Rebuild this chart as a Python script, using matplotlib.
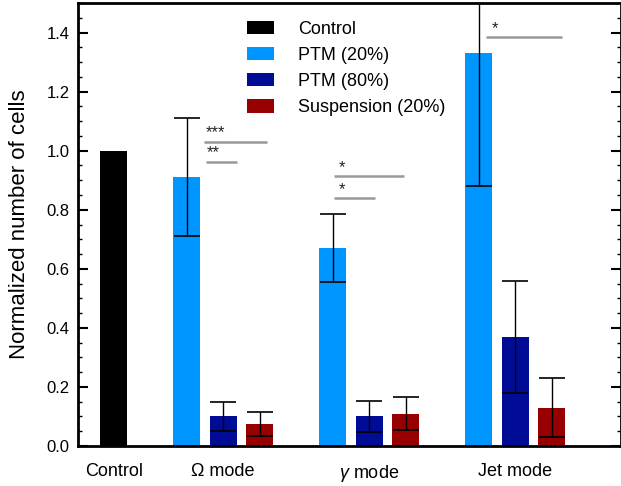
import matplotlib
matplotlib.use("Agg")
import matplotlib.pyplot as plt
from matplotlib.ticker import MultipleLocator
from matplotlib.patches import Patch

plt.rcParams['font.family'] = ['Liberation Sans', 'DejaVu Sans']
plt.rcParams['mathtext.fontset'] = 'custom'
plt.rcParams['mathtext.it'] = 'Liberation Sans:italic'
plt.rcParams['mathtext.rm'] = 'Liberation Sans'

# ---- data ----
series = ["Control", "PTM (20%)", "PTM (80%)", "Suspension (20%)"]
colors = ["#000000", "#0096FF", "#000C96", "#960000"]
group_labels = ["Control", "\u03A9 mode", r"$\gamma$ mode", "Jet mode"]
group_pos = [0, 3, 7, 11]

control_val = [1.0]
control_err = [0.0]
ptm20_val = [0.91, 0.67, 1.33]
ptm20_err = [0.20, 0.115, 0.45]
ptm80_val = [0.10, 0.10, 0.37]
ptm80_err = [0.05, 0.053, 0.19]
susp_val = [0.075, 0.11, 0.13]
susp_err = [0.04, 0.055, 0.10]

# significance brackets
sig_x0 = [2.47, 2.52, 6.03, 6.03, 10.21]
sig_x1 = [4.21, 3.37, 7.94, 7.15, 12.28]
sig_y = [1.03, 0.963, 0.915, 0.84, 1.386]
sig_lab = ["***", "**", "*", "*", "*"]
sig_tx = [2.78, 2.72, 6.26, 6.26, 10.43]
sig_ty = [1.06, 0.993, 0.943, 0.868, 1.414]

fig = plt.figure(figsize=(6.21, 4.86), dpi=100)
ax = fig.add_axes([0.1256, 0.0823, 0.8736, 0.9115])

w = 0.74
ekw = dict(ecolor="black", elinewidth=1.0, capsize=9.7, capthick=1.2)

ax.bar([0], control_val, width=w, color=colors[0])
mode_x = [2, 6, 10]
ax.bar(mode_x, ptm20_val, width=w, color=colors[1], yerr=ptm20_err, error_kw=ekw)
ax.bar([x + 1 for x in mode_x], ptm80_val, width=w, color=colors[2], yerr=ptm80_err, error_kw=ekw)
ax.bar([x + 2 for x in mode_x], susp_val, width=w, color=colors[3], yerr=susp_err, error_kw=ekw)

for x0, x1, y, lab, tx, ty in zip(sig_x0, sig_x1, sig_y, sig_lab, sig_tx, sig_ty):
    ax.plot([x0, x1], [y, y], color="#999999", lw=1.8, solid_capstyle="butt")
    ax.text(tx, ty, lab, ha="center", va="center", fontsize=12, color="#222222")

ax.set_xlim(-0.977, 13.88)
ax.set_ylim(0, 1.5)
ax.set_xticks(group_pos)
ax.set_xticklabels(group_labels, fontsize=13)
ax.tick_params(axis="x", length=0, pad=12)
ax.yaxis.set_major_locator(MultipleLocator(0.2))
ax.yaxis.set_minor_locator(MultipleLocator(0.05))
ax.yaxis.set_major_formatter(matplotlib.ticker.FormatStrFormatter('%.1f'))
ax.tick_params(axis="y", which="major", direction="in", length=7, width=1.5, labelsize=12, right=True, pad=6)
ax.tick_params(axis="y", which="minor", direction="in", length=3, width=1.0, right=True)
for s in ax.spines.values():
    s.set_linewidth(2)
ax.set_ylabel("Normalized number of cells", fontsize=16, labelpad=12)

handles = [Patch(facecolor=c, edgecolor="none") for c in colors]
fig.legend(handles, series, loc="upper left", bbox_to_anchor=(0.372, 0.99), frameon=False,
           fontsize=13, handlelength=1.5, handleheight=0.75, handletextpad=1.3, labelspacing=0.5)

fig.savefig("out.png", dpi=100)
